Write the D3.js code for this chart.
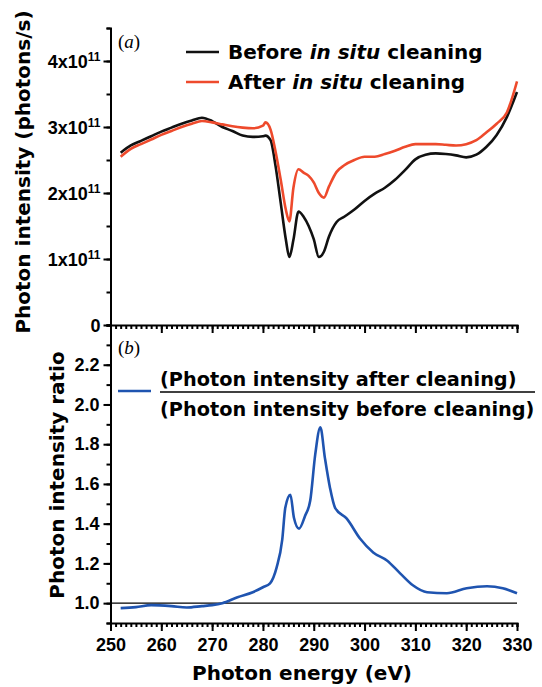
<!DOCTYPE html>
<html>
<head>
<meta charset="utf-8">
<script src="https://cdn.jsdelivr.net/npm/d3@7"></script>
<style>
  body { margin: 0; background: #fff; }
  svg text { font-family: "DejaVu Sans", sans-serif; font-weight: bold; fill: #000; }
  .tick text { font-family: "Liberation Sans", Arial, sans-serif; font-size: 18px; font-weight: bold; }
</style>
</head>
<body>
<div id="chart"></div>
<script>
// photon energy (eV) sampled for the two intensity curves
const energy = [252, 254, 256, 258, 260, 262, 264, 266, 268, 270, 272, 274, 276, 278, 280, 280.5,
  281.5, 282.5, 283.5, 284.5, 285.2, 286, 287, 288, 289, 290, 291, 292, 293, 294.5, 296, 298,
  300, 302, 304, 306, 308, 310, 312, 314, 316, 318, 320, 322, 324, 326, 328, 330];
// intensity in units of 1e11 photons/s
const beforeCleaning = [2.61, 2.72, 2.79, 2.86, 2.93, 2.99, 3.05, 3.10, 3.14, 3.09, 3.00, 2.94, 2.87, 2.85, 2.86, 2.87,
  2.80, 2.40, 1.85, 1.30, 1.03, 1.29, 1.72, 1.64, 1.50, 1.30, 1.03, 1.11, 1.34, 1.56, 1.64, 1.75,
  1.88, 1.99, 2.08, 2.20, 2.35, 2.51, 2.58, 2.60, 2.59, 2.57, 2.54, 2.58, 2.70, 2.88, 3.15, 3.53];
const afterCleaning = [2.55, 2.67, 2.74, 2.81, 2.88, 2.94, 3.00, 3.05, 3.09, 3.07, 3.04, 3.01, 2.99, 2.98, 3.02, 3.07,
  2.96, 2.62, 2.20, 1.75, 1.57, 2.08, 2.36, 2.31, 2.26, 2.16, 2.00, 1.93, 2.10, 2.32, 2.42, 2.50,
  2.55, 2.55, 2.59, 2.64, 2.70, 2.74, 2.74, 2.74, 2.73, 2.72, 2.74, 2.80, 2.92, 3.05, 3.22, 3.69];

// ratio after / before
const ratioEnergy = [252, 255, 258, 262, 265, 268, 270, 272, 275, 278, 280, 281.4, 282.7, 283.8, 284.4, 285.4,
  286.1, 287.1, 288.3, 289.3, 290.3, 291.3, 292.2, 293.2, 294.2, 296.5, 299.1, 301.7, 304.4, 307,
  309.5, 312.3, 316.2, 320.1, 324.1, 327.2, 330];
const ratio = [0.975, 0.98, 0.99, 0.985, 0.978, 0.985, 0.99, 1.0, 1.03, 1.055, 1.08, 1.10, 1.18, 1.32, 1.48, 1.545,
  1.43, 1.375, 1.44, 1.515, 1.75, 1.885, 1.73, 1.58, 1.48, 1.425, 1.325, 1.255, 1.215, 1.15,
  1.09, 1.055, 1.05, 1.075, 1.085, 1.075, 1.05];

const xTicks = [250, 260, 270, 280, 290, 300, 310, 320, 330];
const topTicks = [0, 1, 2, 3, 4];
const bottomTicks = [1.0, 1.2, 1.4, 1.6, 1.8, 2.0, 2.2];

const width = 542, height = 687;
const left = 110.5, right = 517, splitY = 325, topY = 28, bottomY = 623;

const svg = d3.select('#chart').append('svg')
  .attr('width', width)
  .attr('height', height);

const x = d3.scaleLinear().domain([250, 330]).range([left, right]);
const yTop = d3.scaleLinear().domain([0, 4.5]).range([splitY, topY]);
const yBot = d3.scaleLinear().domain([0.9, 2.4]).range([bottomY, splitY]);

function styleAxis(g) {
  g.select('.domain').attr('stroke', '#000').attr('stroke-width', 2);
  g.selectAll('.tick line').attr('stroke', '#000').attr('stroke-width', 2);
}

// minor ticks every 1 eV, majors every 10 eV
function xAxis(y, labels) {
  svg.append('g').attr('transform', `translate(0,${y})`)
    .call(d3.axisBottom(x).tickValues(d3.range(250, 331, 1)).tickSize(4).tickFormat(''))
    .call(styleAxis);
  const g = svg.append('g').attr('transform', `translate(0,${y})`)
    .call(d3.axisBottom(x).tickValues(xTicks).tickSize(8).tickPadding(7)
      .tickFormat(labels ? d3.format('d') : ''))
    .call(styleAxis);
  g.select('.domain').remove();
}

// top panel y axis
svg.append('g').attr('transform', `translate(${left},0)`)
  .call(d3.axisLeft(yTop).tickValues(d3.range(0, 4.51, 0.5)).tickSize(4).tickFormat(''))
  .call(styleAxis);
const gTop = svg.append('g').attr('transform', `translate(${left},0)`)
  .call(d3.axisLeft(yTop).tickValues(topTicks).tickSize(7).tickPadding(4).tickFormat(''))
  .call(styleAxis);
gTop.select('.domain').remove();
gTop.selectAll('.tick').each(function(d) {
  const t = d3.select(this).append('text')
    .attr('x', -10).attr('dy', '0.36em')
    .attr('text-anchor', 'end');
  if (d === 0) {
    t.text('0');
  } else {
    t.append('tspan').text(d + 'x10');
    t.append('tspan').attr('dy', '-0.55em').attr('font-size', '12px').text('11');
  }
});

// bottom panel y axis
svg.append('g').attr('transform', `translate(${left},0)`)
  .call(d3.axisLeft(yBot).tickValues(d3.range(9, 24.1, 1).map(v => v / 10)).tickSize(4).tickFormat(''))
  .call(styleAxis);
const gBot = svg.append('g').attr('transform', `translate(${left},0)`)
  .call(d3.axisLeft(yBot).tickValues(bottomTicks).tickSize(7).tickPadding(4).tickFormat(d3.format('.1f')))
  .call(styleAxis);
gBot.select('.domain').remove();

xAxis(splitY, false);
xAxis(bottomY, true);

// reference line at ratio 1
svg.append('line')
  .attr('x1', left).attr('x2', right)
  .attr('y1', yBot(1)).attr('y2', yBot(1))
  .attr('stroke', '#000').attr('stroke-width', 1.2);

const lineTop = d3.line().curve(d3.curveMonotoneX)
  .x((d, i) => x(energy[i])).y(d => yTop(d));
const lineRatio = d3.line().curve(d3.curveMonotoneX)
  .x((d, i) => x(ratioEnergy[i])).y(d => yBot(d));

svg.append('path').datum(beforeCleaning)
  .attr('d', lineTop).attr('fill', 'none').attr('stroke', '#111').attr('stroke-width', 2.6);
svg.append('path').datum(afterCleaning)
  .attr('d', lineTop).attr('fill', 'none').attr('stroke', '#ee4a2c').attr('stroke-width', 2.6);
svg.append('path').datum(ratio)
  .attr('d', lineRatio).attr('fill', 'none').attr('stroke', '#1f54b0').attr('stroke-width', 2.6);

// panel labels
function panelLabel(letter, y) {
  const t = svg.append('text').attr('x', 118).attr('y', y)
    .style('font-family', '"Liberation Serif", "Times New Roman", serif')
    .style('font-weight', 'normal').attr('font-size', '19px');
  t.append('tspan').text('(');
  t.append('tspan').attr('font-style', 'italic').text(letter);
  t.append('tspan').text(')');
}
panelLabel('a', 48);
panelLabel('b', 354);

// legend top panel
const legend = [
  { color: '#111', pre: 'Before ', y: 52 },
  { color: '#ee4a2c', pre: 'After ', y: 82 }
];
legend.forEach(l => {
  svg.append('line').attr('x1', 186).attr('x2', 219).attr('y1', l.y).attr('y2', l.y)
    .attr('stroke', l.color).attr('stroke-width', 2.6);
  const t = svg.append('text').attr('x', 228).attr('y', l.y + 7).attr('font-size', '20px');
  t.append('tspan').text(l.pre);
  t.append('tspan').attr('font-style', 'italic').text('in situ');
  t.append('tspan').text(' cleaning');
});

// legend bottom panel (fraction)
svg.append('line').attr('x1', 118).attr('x2', 151).attr('y1', 391).attr('y2', 391)
  .attr('stroke', '#1f54b0').attr('stroke-width', 2.6);
svg.append('text').attr('x', 160).attr('y', 386).attr('font-size', '19.3px')
  .text('(Photon intensity after cleaning)');
svg.append('line').attr('x1', 160).attr('x2', 535).attr('y1', 392).attr('y2', 392)
  .attr('stroke', '#000').attr('stroke-width', 1.5);
svg.append('text').attr('x', 160).attr('y', 416).attr('font-size', '19.3px')
  .text('(Photon intensity before cleaning)');

// axis titles
svg.append('text').attr('transform', 'translate(30,172) rotate(-90)')
  .attr('text-anchor', 'middle').attr('font-size', '20px')
  .text('Photon intensity (photons/s)');
svg.append('text').attr('transform', 'translate(64,475) rotate(-90)')
  .attr('text-anchor', 'middle').attr('font-size', '20px')
  .text('Photon intensity ratio');
svg.append('text').attr('x', 302).attr('y', 680)
  .attr('text-anchor', 'middle').attr('font-size', '20px')
  .text('Photon energy (eV)');
</script>
</body>
</html>
